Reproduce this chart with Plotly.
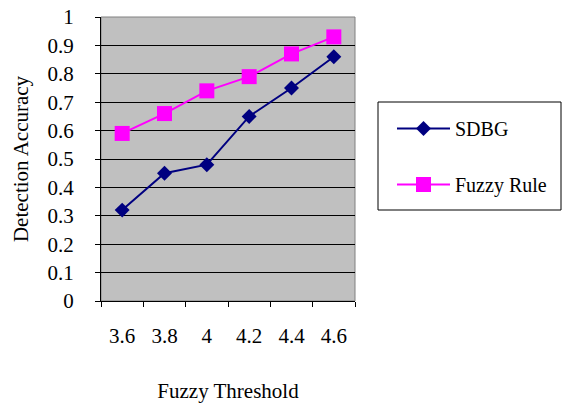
import plotly.graph_objects as go

thresholds = ["3.6", "3.8", "4", "4.2", "4.4", "4.6"]
sdbg = [0.32, 0.45, 0.48, 0.65, 0.75, 0.86]
fuzzy_rule = [0.59, 0.66, 0.74, 0.79, 0.87, 0.93]

FONT = "Liberation Serif"

fig = go.Figure()
fig.add_trace(go.Scatter(
    x=thresholds, y=sdbg, name="SDBG", mode="lines+markers",
    line=dict(color="#000080", width=2),
    marker=dict(symbol="diamond", size=11.5, color="#000080"),
    legendgroup="a",
))
fig.add_trace(go.Scatter(
    x=thresholds, y=fuzzy_rule, name="Fuzzy Rule", mode="lines+markers",
    line=dict(color="#FF00FF", width=2),
    marker=dict(symbol="square", size=15, color="#FF00FF"),
    legendgroup="b",
))

L, R, T, B = 101, 208, 17, 102
W, H = 563, 403
pw, ph = W - L - R, H - T - B

def px_x(x):
    return (x - L) / pw

def px_y(y):
    return (H - B - y) / ph

fig.add_shape(type="rect", xref="paper", yref="paper",
              x0=0, x1=1, y0=0, y1=1, line=dict(color="#808080", width=1),
              layer="below")
fig.add_shape(type="rect", xref="paper", yref="paper",
              x0=px_x(378), x1=px_x(561), y0=px_y(210), y1=px_y(102),
              line=dict(color="#000000", width=1), fillcolor="white")

fig.update_layout(
    width=W, height=H,
    margin=dict(l=L, r=R, t=T, b=B, autoexpand=False),
    paper_bgcolor="white", plot_bgcolor="#C0C0C0",
    font=dict(family=FONT, size=20, color="black"),
    showlegend=True,
    legend=dict(
        x=px_x(392), y=px_y(109), xanchor="left", yanchor="top",
        bgcolor="rgba(0,0,0,0)", borderwidth=0,
        font=dict(family=FONT, size=20, color="black"),
        tracegroupgap=27, itemwidth=53,
    ),
    xaxis=dict(
        type="category", range=[-0.5, 5.5], automargin=False,
        tickson="boundaries", ticks="outside", ticklen=5, tickcolor="black",
        showline=True, linecolor="black", linewidth=1,
        showgrid=False, zeroline=False,
        ticklabelstandoff=16,
        title=dict(text="Fuzzy Threshold", standoff=36,
                   font=dict(family=FONT, size=21, color="black")),
        tickfont=dict(family=FONT, size=21, color="black"),
    ),
    yaxis=dict(
        range=[0, 1], dtick=0.1, tick0=0, automargin=False,
        ticks="outside", ticklen=5, tickcolor="black",
        showline=True, linecolor="black", linewidth=1,
        showgrid=True, gridcolor="black", gridwidth=1,
        zeroline=False,
        ticklabelstandoff=17,
        title=dict(text="Detection Accuracy", standoff=13,
                   font=dict(family=FONT, size=21, color="black")),
        tickfont=dict(family=FONT, size=21, color="black"),
    ),
)

fig.write_html("out.html")
